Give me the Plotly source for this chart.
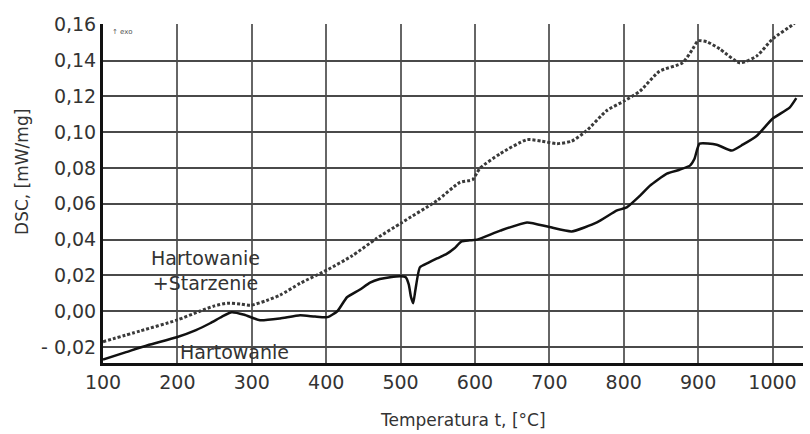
import plotly.graph_objects as go

# Hartowanie (solid)
t_hart = [100, 130, 160, 199, 225, 244, 260, 273, 290, 311, 338, 365, 385, 402, 415, 428, 445, 459, 472, 486,
          500, 507, 511, 514, 517, 520, 526, 537, 549, 562, 572, 582, 593, 603, 634, 670, 700, 730, 764, 791,
          804, 822, 835, 858, 875, 889, 895, 902, 925, 945, 960, 979, 1000, 1023, 1032]
dsc_hart = [-0.027, -0.023, -0.019, -0.0145, -0.0105, -0.0067, -0.003, -0.0006, -0.002, -0.005, -0.004, -0.0022,
            -0.003, -0.0033, 0.000, 0.0078, 0.012, 0.016, 0.018, 0.019, 0.0195, 0.019, 0.015, 0.008, 0.0045, 0.012,
            0.0245, 0.027, 0.0295, 0.032, 0.035, 0.039, 0.0396, 0.040, 0.045, 0.0496, 0.047, 0.0446, 0.0496, 0.0563,
            0.058, 0.0646, 0.070, 0.0769, 0.079, 0.0813, 0.085, 0.0936, 0.093, 0.0897, 0.093, 0.098, 0.1075, 0.1137,
            0.119]

# Hartowanie + Starzenie (dotted)
t_star = [100, 150, 199, 230, 250, 267, 285, 298, 320, 338, 365, 401, 435, 468, 502, 549, 580, 593, 597, 603,
          607, 634, 670, 690, 710, 730, 750, 777, 801, 822, 848, 879, 892, 900, 912, 929, 956, 979, 1000, 1027, 1035]
dsc_star = [-0.017, -0.011, -0.005, 0.0, 0.003, 0.0045, 0.004, 0.0033, 0.006, 0.009, 0.0156, 0.023, 0.031, 0.0407,
            0.0496, 0.0618, 0.072, 0.073, 0.0735, 0.0775, 0.080, 0.088, 0.0958, 0.095, 0.0936, 0.095, 0.1008, 0.112,
            0.1175, 0.123, 0.134, 0.1387, 0.146, 0.151, 0.1504, 0.1465, 0.1387, 0.1426, 0.152, 0.16, 0.163]

x_ticks = [100, 200, 300, 400, 500, 600, 700, 800, 900, 1000]
y_ticks = [-0.02, 0.0, 0.02, 0.04, 0.06, 0.08, 0.10, 0.12, 0.14, 0.16]
y_ticktext = ["- 0,02", "0,00", "0,02", "0,04", "0,06", "0,08", "0,10", "0,12", "0,14", "0,16"]

FONT = "DejaVu Sans"
TXT = "#333333"

fig = go.Figure()
fig.add_trace(go.Scatter(x=t_star, y=dsc_star, mode="lines",
                         line=dict(color="#3a3a3a", width=3, dash="3px,2px", shape="spline", smoothing=0.6),
                         showlegend=False))
fig.add_trace(go.Scatter(x=t_hart, y=dsc_hart, mode="lines",
                         line=dict(color="#111111", width=2.5, shape="spline", smoothing=0.5),
                         showlegend=False))

fig.update_layout(
    width=810, height=434,
    margin=dict(l=103, r=7, t=24, b=71),
    paper_bgcolor="white", plot_bgcolor="white",
    font=dict(family=FONT, color=TXT),
    xaxis=dict(range=[100, 1041], tickvals=x_ticks, ticktext=[str(v) for v in x_ticks],
               showgrid=True, gridcolor="#666666", gridwidth=1.6,
               showline=True, linecolor="#111111", linewidth=3, zeroline=False,
               ticks="", tickfont=dict(size=19, family=FONT, color=TXT)),
    yaxis=dict(range=[-0.0289, 0.1604], tickvals=y_ticks, ticktext=y_ticktext,
               showgrid=True, gridcolor="#4a4a4a", gridwidth=1.6,
               showline=True, linecolor="#111111", linewidth=3, zeroline=False,
               ticks="", tickfont=dict(size=19, family=FONT, color=TXT)),
    annotations=[
        dict(text="DSC, [mW/mg]", textangle=-90, xref="paper", yref="paper",
             x=-0.116, y=0.563, xanchor="center", yanchor="middle", showarrow=False,
             font=dict(size=17, family=FONT, color=TXT)),
        dict(text="Temperatura t, [°C]", xref="paper", yref="paper",
             x=0.514, y=-0.168, xanchor="center", yanchor="middle", showarrow=False,
             font=dict(size=17, family=FONT, color=TXT)),
        dict(text="Hartowanie<br>+Starzenie", x=238, y=0.0225, xref="x", yref="y",
             showarrow=False, align="center", font=dict(size=19, family=FONT, color=TXT)),
        dict(text="Hartowanie", x=277, y=-0.0228, xref="x", yref="y",
             showarrow=False, font=dict(size=19, family=FONT, color=TXT)),
        dict(text="↑ exo", x=110, y=0.156, xref="x", yref="y", xanchor="left",
             showarrow=False, font=dict(size=7, family=FONT, color="#555555")),
    ],
)

fig.write_html("out.html")
